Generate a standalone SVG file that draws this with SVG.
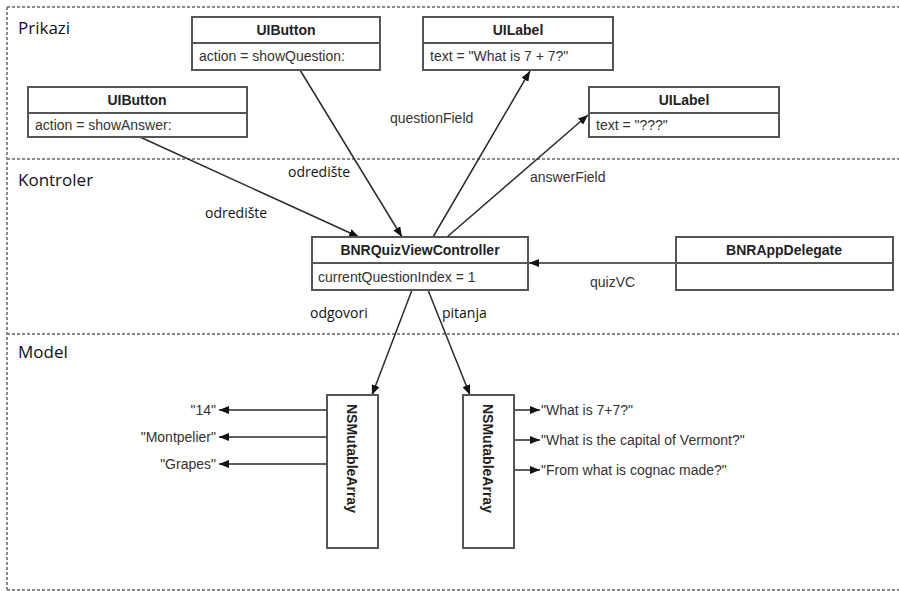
<svg xmlns="http://www.w3.org/2000/svg" width="899" height="591" viewBox="0 0 899 591">
<style>
.bg{fill:#fff}
.sep{stroke:#8a8a8a;stroke-width:2;stroke-dasharray:3 2;fill:none}
.sec{font-family:"Open Sans","Noto Sans",sans-serif;font-size:17px;fill:#111}
.box{fill:#fff;stroke:#555;stroke-width:2}
.div{stroke:#555;stroke-width:2}
.ttl{font-family:"Liberation Sans",Arial,sans-serif;font-size:14px;font-weight:bold;fill:#222;text-anchor:middle}
.vtl{font-family:"Liberation Sans",Arial,sans-serif;font-size:14px;font-weight:bold;fill:#222}
.att{font-family:"Liberation Sans",Arial,sans-serif;font-size:14px;fill:#333}
.edge{stroke:#2a2a2a;stroke-width:1.5;fill:none;marker-end:url(#ah)}
.lbl{font-family:"Liberation Sans",Arial,sans-serif;font-size:14px;fill:#333}
.tlb{font-family:"Open Sans","Noto Sans",sans-serif;font-size:14px;fill:#111}
.item{font-family:"Liberation Sans",Arial,sans-serif;font-size:14px;fill:#333}
</style>
<defs>
<marker id="ah" viewBox="0 0 10 8" refX="10" refY="4" markerWidth="10" markerHeight="8" markerUnits="userSpaceOnUse" orient="auto">
<path d="M0,0 L10,4 L0,8 Z" fill="#111"/>
</marker>
</defs>
<rect class="bg" x="0" y="0" width="899" height="591"/>
<g id="sections">
<line class="sep" x1="7" y1="7" x2="899" y2="7"/>
<line class="sep" x1="7" y1="7" x2="7" y2="590"/>
<line class="sep" x1="7" y1="159" x2="899" y2="159"/>
<line class="sep" x1="7" y1="334" x2="899" y2="334"/>
<line class="sep" x1="7" y1="590" x2="899" y2="590"/>
<text class="sec" x="18" y="34">Prikazi</text>
<text class="sec" x="18" y="186">Kontroler</text>
<text class="sec" x="18" y="358">Model</text>
</g>
<g id="connectors">
<line class="edge" x1="140" y1="137" x2="359" y2="237"/>
<line class="edge" x1="300" y1="70" x2="402" y2="237"/>
<line class="edge" x1="433" y1="237" x2="530" y2="71"/>
<line class="edge" x1="447" y1="237" x2="588" y2="115"/>
<line class="edge" x1="676" y1="263" x2="529" y2="263"/>
<line class="edge" x1="412" y1="290" x2="372" y2="395"/>
<line class="edge" x1="428" y1="290" x2="470" y2="395"/>
<line class="edge" x1="327" y1="410" x2="219" y2="410"/>
<line class="edge" x1="327" y1="437" x2="219" y2="437"/>
<line class="edge" x1="327" y1="464" x2="219" y2="464"/>
<line class="edge" x1="514" y1="410" x2="540" y2="410"/>
<line class="edge" x1="514" y1="440" x2="540" y2="440"/>
<line class="edge" x1="514" y1="470" x2="540" y2="470"/>
<text class="tlb" x="205" y="218">odredište</text>
<text class="tlb" x="288" y="177">odredište</text>
<text class="lbl" x="390" y="123">questionField</text>
<text class="lbl" x="530" y="182">answerField</text>
<text class="lbl" x="590" y="287">quizVC</text>
<text class="tlb" x="310" y="318">odgovori</text>
<text class="tlb" x="442" y="318">pitanja</text>
</g>
<g id="uibutton-question">
<rect class="box" x="192" y="17" width="188" height="53"/>
<line class="div" x1="192" y1="43" x2="380" y2="43"/>
<text class="ttl" x="286" y="35">UIButton</text>
<text class="att" x="199" y="61">action = showQuestion:</text>
</g>
<g id="uilabel-question">
<rect class="box" x="423" y="17" width="190" height="53"/>
<line class="div" x1="423" y1="43" x2="613" y2="43"/>
<text class="ttl" x="518" y="35">UILabel</text>
<text class="att" x="430" y="61">text = "What is 7 + 7?"</text>
</g>
<g id="uibutton-answer">
<rect class="box" x="28" y="87" width="219" height="50"/>
<line class="div" x1="28" y1="113" x2="247" y2="113"/>
<text class="ttl" x="137" y="105">UIButton</text>
<text class="att" x="35" y="130">action = showAnswer:</text>
</g>
<g id="uilabel-answer">
<rect class="box" x="589" y="87" width="190" height="50"/>
<line class="div" x1="589" y1="113" x2="779" y2="113"/>
<text class="ttl" x="684" y="105">UILabel</text>
<text class="att" x="596" y="130">text = "???"</text>
</g>
<g id="quiz-controller">
<rect class="box" x="312" y="237" width="216" height="53"/>
<line class="div" x1="312" y1="263" x2="528" y2="263"/>
<text class="ttl" x="420" y="255">BNRQuizViewController</text>
<text class="att" x="318" y="282">currentQuestionIndex = 1</text>
</g>
<g id="app-delegate">
<rect class="box" x="676" y="237" width="217" height="53"/>
<line class="div" x1="676" y1="263" x2="893" y2="263"/>
<text class="ttl" x="784" y="255">BNRAppDelegate</text>
</g>
<g id="answers-array">
<rect class="box" x="327" y="395" width="51" height="153"/>
<text class="vtl" transform="translate(352,404) rotate(90)" y="5">NSMutableArray</text>
<text class="item" x="216" y="415" text-anchor="end">"14"</text>
<text class="item" x="216" y="442" text-anchor="end">"Montpelier"</text>
<text class="item" x="216" y="469" text-anchor="end">"Grapes"</text>
</g>
<g id="questions-array">
<rect class="box" x="463" y="395" width="51" height="153"/>
<text class="vtl" transform="translate(488,404) rotate(90)" y="5">NSMutableArray</text>
<text class="item" x="541" y="415">"What is 7+7?"</text>
<text class="item" x="541" y="445">"What is the capital of Vermont?"</text>
<text class="item" x="541" y="475">"From what is cognac made?"</text>
</g>
</svg>
